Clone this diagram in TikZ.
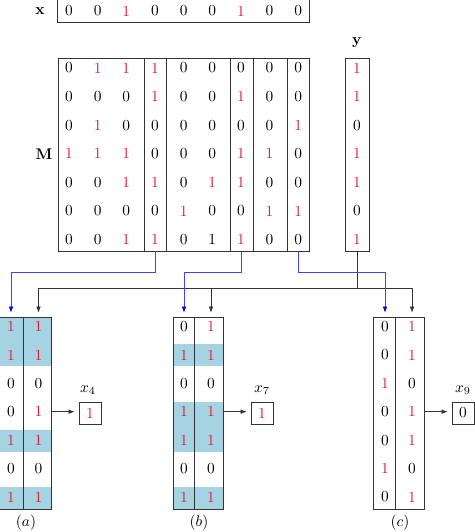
\documentclass[tikz,border=0pt]{standalone}
\usetikzlibrary{arrows.meta,fit}
\definecolor{myred}{RGB}{220,30,60}
\definecolor{shadeblue}{RGB}{166,211,226}
\begin{document}
\begin{tikzpicture}[x=0.65pt,y=-0.65pt,
  box/.style={draw=black!80, line width=0.55pt, inner sep=0pt},
  cell/.style={inner sep=0pt},
  d0/.style={cell, node contents={0}},
  d1/.style={cell, text=myred, node contents={1}},
  dk/.style={cell, node contents={1}},
  conn/.style={line width=0.5pt, draw=black!80, -{Latex[length=4pt,width=3pt]}, shorten >=2.5pt},
  bconn/.style={line width=0.5pt, draw=blue!75, -{Latex[length=4pt,width=3pt,color=blue]}, shorten >=2.5pt},
  tree/.style={line width=0.5pt, draw=black!80}]
\useasboundingbox (0,0) rectangle (474,532);

% ---- x vector ----
\node[box, fit={(57.7,-1)(309,22)}] (xv) {};
\foreach \v [count=\j] in {0,0,1,0,0,0,1,0,0}
  \node (x-\j) at ({69+28.65*(\j-1)},11) [d\v];
\node[cell] (xl) at (40,11) {$\mathbf{x}$};

% ---- matrix M ----
\node[box, fit={(58,58)(309,251)}] (M) {};
\node[box, fit={(144,58)(166,251)}] (c4) {};
\node[box, fit={(230,58)(253,251)}] (c7) {};
\node[box, fit={(287,58)(309,251)}] (c9) {};
\foreach \row [count=\i] in {{0,1,1,1,0,0,0,0,0},{0,0,0,1,0,0,1,0,0},{0,1,0,0,0,0,0,0,1},{1,1,1,0,0,0,1,1,0},{0,0,1,1,0,1,1,0,0},{0,0,0,0,1,0,0,1,1},{0,0,1,1,0,k,1,0,0}}
  \foreach \v [count=\j] in \row
    \node (m-\i-\j) at ({69+28.65*(\j-1)},{68+28.6*(\i-1)}) [d\v];
\node[cell] (Ml) at (44,154) {$\mathbf{M}$};

% ---- y vector ----
\node[box, fit={(345,58)(369,251)}] (yv) {};
\foreach \v [count=\i] in {1,1,0,1,1,0,1}
  \node (y-\i) at (357,{68+28.6*(\i-1)}) [d\v];
\node[cell] (yl) at (357,43) {$\mathbf{y}$};

% ---- shading ----
\fill[shadeblue] (-1,316.5) rectangle (51,366);
\fill[shadeblue] (-1,430) rectangle (51,451.5);
\fill[shadeblue] (-1,486.5) rectangle (51,509);
\fill[shadeblue] (173,344) rectangle (223,366);
\fill[shadeblue] (173,401.5) rectangle (223,452);
\fill[shadeblue] (173,486.5) rectangle (223,509);

% ---- bottom columns ----
\node[box, fit={(-0.5,317)(23,509)}] (aL) {};
\node[box, fit={(23,317)(51,509)}] (aR) {};
\node[box, fit={(173,317)(194.5,509)}] (bL) {};
\node[box, fit={(194.5,317)(223,509)}] (bR) {};
\node[box, fit={(373,317)(395,509)}] (cL) {};
\node[box, fit={(395,317)(424,509)}] (cR) {};
\foreach \v [count=\i] in {1,1,0,0,1,0,1}
  \node (al-\i) at (11,{326.5+28.4*(\i-1)}) [d\v];
\foreach \v [count=\i] in {0,1,0,1,1,0,1}
  \node (bl-\i) at (184,{326.5+28.4*(\i-1)}) [d\v];
\foreach \v [count=\i] in {0,0,1,0,0,1,0}
  \node (cl-\i) at (385,{326.5+28.4*(\i-1)}) [d\v];
\foreach \v [count=\i] in {1,1,0,1,1,0,1} {
  \node (ar-\i) at (38.5,{326.5+28.4*(\i-1)}) [d\v];
  \node (br-\i) at (211,{326.5+28.4*(\i-1)}) [d\v];
  \node (cr-\i) at (412,{326.5+28.4*(\i-1)}) [d\v];
}

% ---- results ----
\node[box, fit={(79,402)(101,424)}] (r4) {};
\node (r4v) at (90,413) [d1];
\node[cell] (r4l) at (88,390) {$x_4$};
\node[box, fit={(251,402)(273,424)}] (r7) {};
\node (r7v) at (262,413) [d1];
\node[cell] (r7l) at (262,390) {$x_7$};
\node[box, fit={(452,402)(474.2,424)}] (r9) {};
\node (r9v) at (463,413) [d0];
\node[cell] (r9l) at (463,390) {$x_9$};

\draw[conn] (aR.east |- ar-4) -- (r4.west |- ar-4);
\draw[conn] (bR.east |- br-4) -- (r7.west |- br-4);
\draw[conn] (cR.east |- cr-4) -- (r9.west |- cr-4);

% ---- sub labels ----
\node[cell] (la) at (26,523) {$(a)$};
\node[cell] (lb) at (199,523) {$(b)$};
\node[cell] (lc) at (400,523) {$(c)$};

% ---- connectors ----
\draw[tree] (yv.south) -- ++(0,37) coordinate (j);
\draw[conn] (j) -| (ar-1 |- aR.north);
\draw[conn] (j) -| (br-1 |- bR.north);
\draw[conn] (j) -| (cr-1 |- cR.north);
\draw[bconn] (c4.south) -- ++(0,21) -| (al-1 |- aL.north);
\draw[bconn] (c7.south) -- ++(0,21) -| (bl-1 |- bL.north);
\draw[bconn] (c9.south) -- ++(0,21) -| (cl-1 |- cL.north);
\end{tikzpicture}
\end{document}
